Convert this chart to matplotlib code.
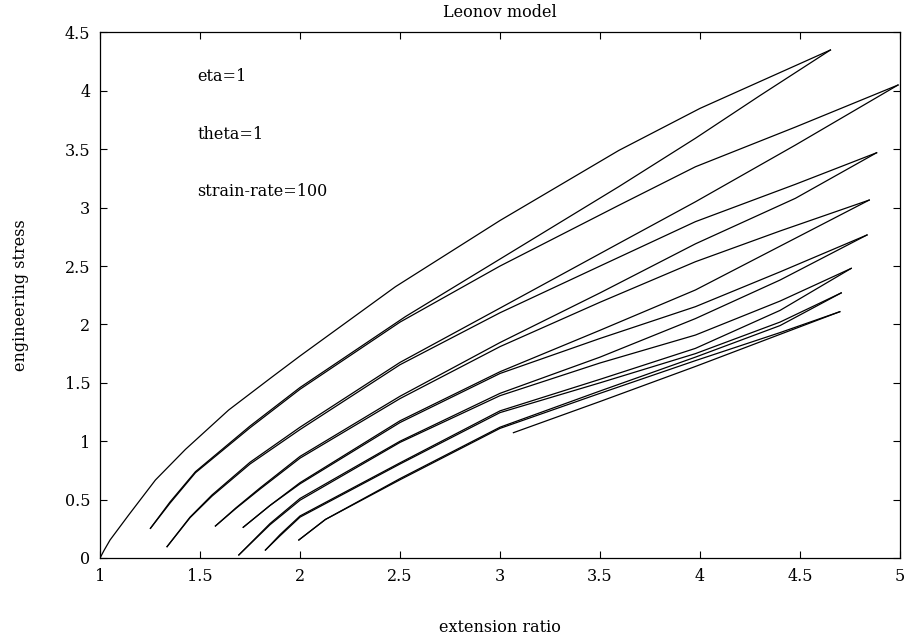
import matplotlib
matplotlib.use("Agg")
import matplotlib.pyplot as plt

# loading / unloading branches of the cyclic stretch test (extension ratio, stress)
load1_x = [1.0, 1.02, 1.05, 1.144, 1.277, 1.427, 1.643, 1.86, 2.0, 2.477, 3.0, 3.594, 4.0, 4.652]
load1_y = [0.0, 0.065, 0.154, 0.37, 0.668, 0.93, 1.267, 1.55, 1.73, 2.323, 2.89, 3.49, 3.85, 4.35]
unload1_x = [4.652, 4.3, 3.977, 3.594, 3.0, 2.527, 2.0, 1.75, 1.477, 1.35, 1.252]
unload1_y = [4.35, 3.96, 3.594, 3.18, 2.56, 2.067, 1.46, 1.13, 0.739, 0.48, 0.254]

load2_x = [1.252, 1.35, 1.477, 1.75, 2.0, 2.5, 3.0, 3.594, 3.977, 4.477, 4.99]
load2_y = [0.254, 0.47, 0.73, 1.115, 1.445, 2.02, 2.50, 3.02, 3.35, 3.69, 4.05]
unload2_x = [4.99, 4.477, 3.977, 3.594, 3.0, 2.5, 2.0, 1.75, 1.56, 1.45, 1.335]
unload2_y = [4.05, 3.536, 3.05, 2.694, 2.14, 1.675, 1.12, 0.82, 0.54, 0.35, 0.097]

load3_x = [1.335, 1.45, 1.56, 1.75, 2.0, 2.5, 3.0, 3.5, 3.977, 4.477, 4.883]
load3_y = [0.097, 0.345, 0.53, 0.805, 1.10, 1.655, 2.10, 2.50, 2.88, 3.20, 3.47]
unload3_x = [4.883, 4.477, 3.977, 3.5, 3.0, 2.5, 2.0, 1.8, 1.68, 1.577]
unload3_y = [3.47, 3.08, 2.69, 2.27, 1.845, 1.385, 0.87, 0.6, 0.43, 0.274]

load4_x = [1.577, 1.68, 1.8, 2.0, 2.5, 3.0, 3.5, 3.977, 4.4, 4.846]
load4_y = [0.274, 0.425, 0.59, 0.855, 1.365, 1.81, 2.19, 2.537, 2.80, 3.065]
unload4_x = [4.846, 4.4, 3.977, 3.5, 3.0, 2.5, 2.0, 1.85, 1.716]
unload4_y = [3.065, 2.67, 2.295, 1.95, 1.595, 1.175, 0.645, 0.45, 0.263]

load5_x = [1.716, 1.85, 2.0, 2.5, 3.0, 3.5, 3.977, 4.4, 4.835]
load5_y = [0.263, 0.45, 0.635, 1.16, 1.58, 1.88, 2.152, 2.45, 2.766]
unload5_x = [4.835, 4.4, 3.977, 3.5, 3.0, 2.5, 2.0, 1.85, 1.694]
unload5_y = [2.766, 2.38, 2.05, 1.72, 1.41, 1.0, 0.51, 0.295, 0.026]

load6_x = [1.694, 1.85, 2.0, 2.5, 3.0, 3.5, 3.977, 4.4, 4.756]
load6_y = [0.026, 0.285, 0.495, 0.99, 1.39, 1.67, 1.909, 2.2, 2.48]
unload6_x = [4.756, 4.4, 3.977, 3.5, 3.0, 2.5, 2.0, 1.9, 1.827]
unload6_y = [2.48, 2.12, 1.795, 1.53, 1.26, 0.815, 0.36, 0.2, 0.068]

load7_x = [1.827, 1.9, 2.0, 2.5, 3.0, 3.5, 3.977, 4.4, 4.706]
load7_y = [0.068, 0.19, 0.35, 0.805, 1.245, 1.5, 1.75, 2.02, 2.27]
unload7_x = [4.706, 4.4, 3.977, 3.5, 3.0, 2.5, 2.127, 1.994]
unload7_y = [2.27, 1.99, 1.72, 1.43, 1.12, 0.68, 0.33, 0.154]

load8_x = [1.994, 2.127, 2.5, 3.0, 3.5, 3.977, 4.4, 4.699]
load8_y = [0.154, 0.33, 0.67, 1.11, 1.41, 1.69, 1.93, 2.109]
unload8_x = [4.699, 4.4, 3.977, 3.5, 3.067]
unload8_y = [2.109, 1.915, 1.64, 1.34, 1.073]

branches = [
    (load1_x, load1_y), (unload1_x, unload1_y),
    (load2_x, load2_y), (unload2_x, unload2_y),
    (load3_x, load3_y), (unload3_x, unload3_y),
    (load4_x, load4_y), (unload4_x, unload4_y),
    (load5_x, load5_y), (unload5_x, unload5_y),
    (load6_x, load6_y), (unload6_x, unload6_y),
    (load7_x, load7_y), (unload7_x, unload7_y),
    (load8_x, load8_y), (unload8_x, unload8_y),
]

x_ticks = [1, 1.5, 2, 2.5, 3, 3.5, 4, 4.5, 5]
x_labels = ['1', '1.5', '2', '2.5', '3', '3.5', '4', '4.5', '5']
y_ticks = [0, 0.5, 1, 1.5, 2, 2.5, 3, 3.5, 4, 4.5]
y_labels = ['0', '0.5', '1', '1.5', '2', '2.5', '3', '3.5', '4', '4.5']

params = ['eta=1', 'theta=1', 'strain-rate=100']
param_y = [4.12, 3.63, 3.14]

plt.rcParams['font.family'] = ['DejaVu Serif']

fig = plt.figure(figsize=(9.07, 6.43), dpi=100)
ax = fig.add_axes([0.1103, 0.1322, 0.882, 0.8173])

for bx, by in branches:
    ax.plot(bx, by, color='black', linewidth=0.9)

for txt, ty in zip(params, param_y):
    ax.text(1.485, ty, txt, fontsize=11.5, va='center', ha='left')

ax.set_xlim(1, 5)
ax.set_ylim(0, 4.5)
ax.set_xticks(x_ticks)
ax.set_xticklabels(x_labels)
ax.set_yticks(y_ticks)
ax.set_yticklabels(y_labels)
ax.tick_params(direction='in', top=True, right=True, length=5, width=0.8,
               labelsize=11.5, pad=7)
for sp in ax.spines.values():
    sp.set_linewidth(0.9)

ax.set_title('Leonov model', fontsize=11.5, pad=11)
ax.set_xlabel('extension ratio', fontsize=11.5, labelpad=25)
ax.set_ylabel('engineering stress', fontsize=11.5, labelpad=26)

fig.savefig('out.png', dpi=100)
